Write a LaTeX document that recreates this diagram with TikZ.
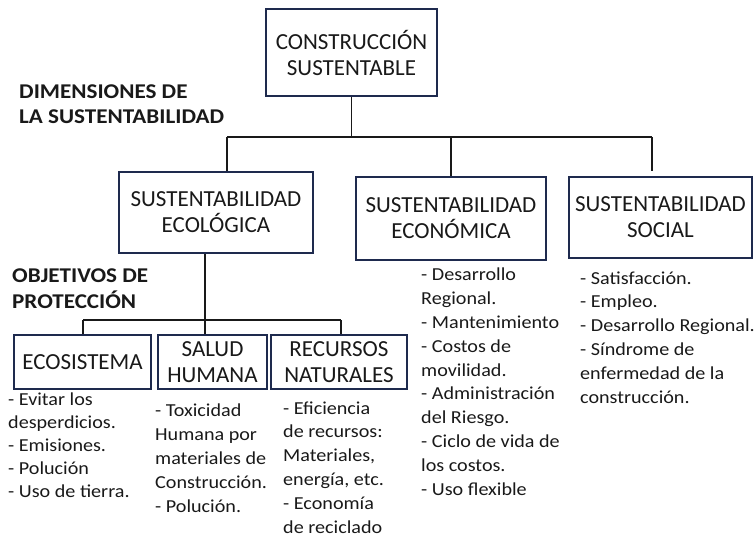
\documentclass[tikz,border=0pt]{standalone}
\usepackage{fontspec}
\setmainfont{Carlito}
\newfontfamily\listafont{Carlito}[FakeStretch=1.1]
\definecolor{marco}{RGB}{30,42,78}
\definecolor{tinta}{RGB}{25,25,25}

\begin{document}
\begin{tikzpicture}[x=1pt, y=-1pt,
    caja/.style={draw=marco, line width=2.4pt, rectangle, inner sep=0pt, align=center,
        font=\fontsize{23}{26}\selectfont, text=tinta},
    lista/.style={anchor=base west, inner sep=0pt, align=left,
        font=\listafont\fontsize{18.3}{23.8}\selectfont, text=tinta},
    titulo/.style={anchor=base west, inner sep=0pt, align=left,
        font=\listafont\fontsize{21}{25.5}\selectfont\bfseries, text=tinta},
    rama/.style={draw=tinta, line width=1.6pt}]
    \useasboundingbox (0,0) rectangle (754,540);

    % cajas
    \node[caja, minimum width=171pt, minimum height=87pt] (cs) at (351.5,52.5) {CONSTRUCCIÓN\\SUSTENTABLE};
    \node[caja, minimum width=194pt, minimum height=81pt] (ecol) at (216,212.5) {SUSTENTABILIDAD\\ECOLÓGICA};
    \node[caja, minimum width=190pt, minimum height=83pt] (econ) at (451,218.5) {SUSTENTABILIDAD\\ECONÓMICA};
    \node[caja, minimum width=183pt, minimum height=81pt] (soc) at (660.5,217.5) {SUSTENTABILIDAD\\SOCIAL};
    \node[caja, minimum width=137pt, minimum height=54pt] (ecos) at (82.5,362) {ECOSISTEMA};
    \node[caja, minimum width=109pt, minimum height=54pt] (sal) at (212.5,362) {SALUD\\HUMANA};
    \node[caja, minimum width=136pt, minimum height=54pt] (rec) at (339,362) {RECURSOS\\NATURALES};

    % titulos (base = ultima linea)
    \node[titulo] (dim) at (19,124) {DIMENSIONES DE\\LA SUSTENTABILIDAD};
    \node[titulo] (obj) at (12,308) {OBJETIVOS DE\\PROTECCIÓN};

    % listas
    \node[lista, font=\listafont\fontsize{18.3}{23}\selectfont] (lecos) at (8,497) {- Evitar los\\desperdicios.\\- Emisiones.\\- Polución\\- Uso de tierra.};
    \node[lista] (lsal) at (155,512) {- Toxicidad\\Humana por\\materiales de\\Construcción.\\- Polución.};
    \node[lista] (lrec) at (283,533) {- Eficiencia\\de recursos:\\Materiales,\\energía, etc.\\- Economía\\de reciclado};
    \node[lista] (lecon) at (421,495) {- Desarrollo\\Regional.\\- Mantenimiento\\- Costos de\\movilidad.\\- Administración\\del Riesgo.\\- Ciclo de vida de\\los costos.\\- Uso flexible};
    \node[lista] (lsoc) at (580,403) {- Satisfacción.\\- Empleo.\\- Desarrollo Regional.\\- Síndrome de\\enfermedad de la\\construcción.};

    % ramas superiores
    \coordinate (j) at (351.5,137);
    \coordinate (jl) at (227,137);
    \coordinate (jr) at (652,137);
    \draw[rama] (cs) -- (j);
    \draw[rama] (jl) -- (jr);
    \draw[rama] (jl) -- (jl |- ecol.north);
    \draw[rama] (econ.north |- j) -- (econ.north);
    \draw[rama, shorten >=5pt] (jr) -- (jr |- soc.north);

    % ramas inferiores
    \coordinate (k) at (205,320);
    \coordinate (kl) at (83,320);
    \coordinate (kr) at (341,320);
    \draw[rama] (k |- ecol.south) -- (k);
    \draw[rama] (kl) -- (kr);
    \draw[rama] (kl) -- (kl |- ecos.north);
    \draw[rama] (k) -- (k |- sal.north);
    \draw[rama] (kr) -- (kr |- rec.north);
\end{tikzpicture}
\end{document}
